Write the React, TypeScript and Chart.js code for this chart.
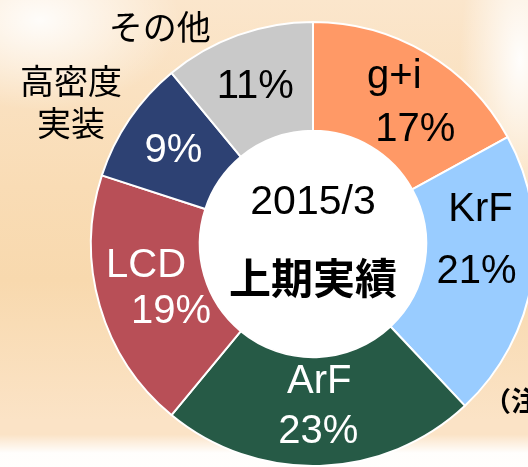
import React, { useEffect, useRef } from "react";
import { Chart, registerables } from "chart.js";

Chart.register(...registerables);

const categories = ["g+i", "KrF", "ArF", "LCD", "高密度実装", "その他"];
const shares = [17, 21, 23, 19, 9, 11];
const sliceColors = ["#FF9966", "#99CCFF", "#265A46", "#B84F57", "#2D4173", "#C9C9C9"];
const centerLines = ["2015/3", "上期実績"];
const noteText = "（注）";

const LATIN = '"Liberation Sans", Arial, "Noto Sans CJK JP", sans-serif';
const CJK = '"Noto Sans CJK JP", "Liberation Sans", sans-serif';

// label styles: per-slice inner text lines (offset from arc centroid) and colours
type LineStyle = { kind: "name" | "pct"; dx: number; dy: number };
const innerLabelStyle: { color: string; lines: LineStyle[] }[] = [
  { color: "#000", lines: [{ kind: "name", dx: -4, dy: -23 }, { kind: "pct", dx: 17, dy: 30 }] },
  { color: "#000", lines: [{ kind: "name", dx: 2, dy: -60 }, { kind: "pct", dx: -2, dy: 2 }] },
  { color: "#fff", lines: [{ kind: "name", dx: 1, dy: -30 }, { kind: "pct", dx: 0, dy: 20 }] },
  { color: "#fff", lines: [{ kind: "name", dx: -6, dy: -25 }, { kind: "pct", dx: 19, dy: 21 }] },
  { color: "#fff", lines: [{ kind: "pct", dx: -1, dy: 1 }] },
  { color: "#000", lines: [{ kind: "pct", dx: -1, dy: 1 }] },
];
// outside name labels, relative to chart centre in units of outer radius
const outsideLabelStyle: Record<number, { text: string; fx: number; fy: number }[]> = {
  4: [
    { text: "高密度", fx: -1.09, fy: -0.735 },
    { text: "実装", fx: -1.09, fy: -0.543 },
  ],
  5: [{ text: "その他", fx: -0.69, fy: -0.978 }],
};

const holePlugin = {
  id: "whiteHole",
  beforeDatasetsDraw(chart: any) {
    const meta = chart.getDatasetMeta(0);
    const arc = meta.data[0];
    if (!arc) return;
    const p = arc.getProps(["x", "y", "innerRadius"], true);
    const ctx = chart.ctx as CanvasRenderingContext2D;
    ctx.save();
    ctx.fillStyle = "#ffffff";
    ctx.beginPath();
    ctx.arc(p.x, p.y, p.innerRadius + 1, 0, Math.PI * 2);
    ctx.fill();
    ctx.restore();
  },
};

const labelPlugin = {
  id: "sliceLabels",
  afterDatasetsDraw(chart: any) {
    const ctx = chart.ctx as CanvasRenderingContext2D;
    const meta = chart.getDatasetMeta(0);
    ctx.save();
    ctx.textAlign = "center";
    ctx.textBaseline = "middle";
    let cx = 0, cy = 0;
    meta.data.forEach((arc: any, i: number) => {
      const p = arc.getProps(["x", "y", "startAngle", "endAngle", "innerRadius", "outerRadius"], true);
      cx = p.x; cy = p.y;
      const mid = (p.startAngle + p.endAngle) / 2;
      const r = (p.innerRadius + p.outerRadius) / 2;
      const mx = p.x + Math.cos(mid) * r;
      const my = p.y + Math.sin(mid) * r;
      const st = innerLabelStyle[i];
      ctx.fillStyle = st.color;
      ctx.font = `40px ${LATIN}`;
      st.lines.forEach((ln) => {
        const txt = ln.kind === "name" ? categories[i] : `${shares[i]}%`;
        ctx.fillText(txt, mx + ln.dx, my + ln.dy);
      });
      const outs = outsideLabelStyle[i];
      if (outs) {
        ctx.fillStyle = "#000";
        ctx.font = `34px ${CJK}`;
        outs.forEach((o) => ctx.fillText(o.text, p.x + o.fx * p.outerRadius, p.y + o.fy * p.outerRadius));
      }
    });
    // centre text
    ctx.fillStyle = "#000";
    ctx.font = `41px ${LATIN}`;
    ctx.fillText(centerLines[0], cx, cy - 41);
    ctx.font = `bold 42px ${CJK}`;
    ctx.fillText(centerLines[1], cx, cy + 34);
    ctx.restore();
  },
};

export default function App() {
  const ref = useRef<HTMLCanvasElement | null>(null);
  useEffect(() => {
    document.body.style.margin = "0";
    const canvas = ref.current!;
    const chart = new Chart(canvas, {
      type: "doughnut",
      data: {
        labels: categories,
        datasets: [
          {
            data: shares,
            backgroundColor: sliceColors,
            borderColor: "#ffffff",
            borderWidth: 2,
          },
        ],
      },
      options: {
        responsive: false,
        animation: false,
        cutout: "51%",
        layout: { padding: { left: 90, top: 21, right: 104, bottom: 33 } },
        plugins: { legend: { display: false }, tooltip: { enabled: false } },
      },
      plugins: [holePlugin, labelPlugin],
    });
    return () => chart.destroy();
  }, []);

  return (
    <div
      style={{
        position: "fixed",
        left: 0,
        top: 0,
        width: 528,
        height: 467,
        overflow: "hidden",
        background: [
          "linear-gradient(to bottom, rgba(255,255,255,0) 93%, rgba(255,255,255,0.95) 97%)",
          "radial-gradient(ellipse 140px 90px at 40px 20px, rgba(255,255,255,0.9), rgba(255,255,255,0))",
          "radial-gradient(ellipse 60px 160px at 520px 60px, rgba(255,255,255,0.95), rgba(255,255,255,0))",
          "linear-gradient(to bottom, #FBE6CC 0%, #F9DCB5 40%, #F8D9AE 60%, #FBE3C6 90%)",
        ].join(","),
      }}
    >
      <canvas ref={ref} width={640} height={500} style={{ position: "absolute", left: 0, top: 0 }} />
      <div
        style={{
          position: "absolute",
          left: 484,
          top: 380,
          fontFamily: CJK,
          fontWeight: "bold",
          fontSize: 27,
          whiteSpace: "nowrap",
          color: "#000",
        }}
      >
        {noteText}
      </div>
    </div>
  );
}
